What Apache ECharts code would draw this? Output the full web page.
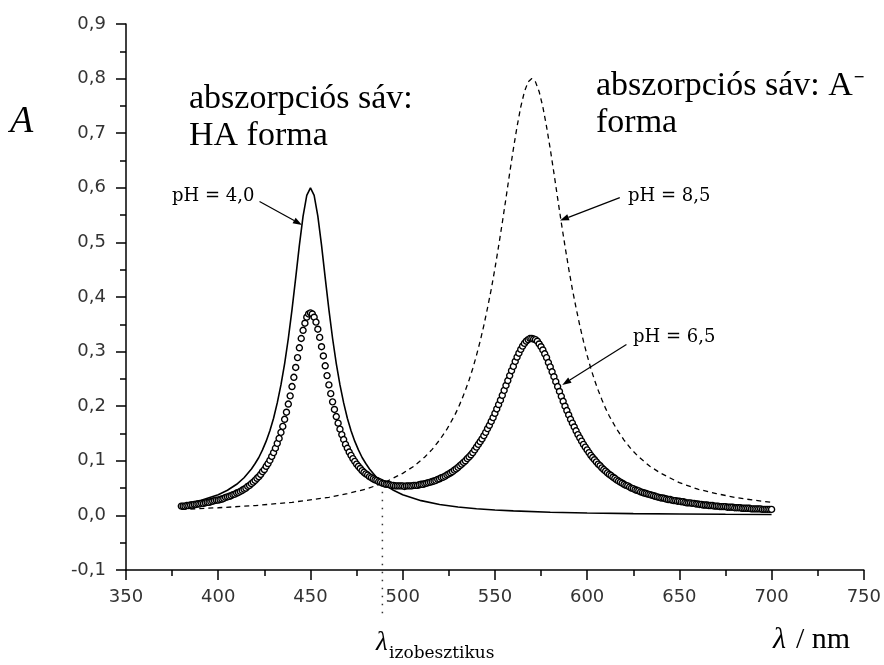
<!DOCTYPE html>
<html><head><meta charset="utf-8">
<script src="https://cdn.jsdelivr.net/npm/echarts@6/dist/echarts.min.js"></script>
<style>html,body{margin:0;padding:0;background:#fff}#c{width:884px;height:665px}</style>
</head><body><div id="c"></div>
<script>
// pH = 6,5 (circles), wavelengths in nm
const wl65 = [
380,381,382,383,384,385,386,387,388,389,
390,391,392,393,394,395,396,397,398,399,
400,401,402,403,404,405,406,407,408,409,
410,411,412,413,414,415,416,417,418,419,
420,421,422,423,424,425,426,427,428,429,
430,431,432,433,434,435,436,437,438,439,
440,441,442,443,444,445,446,447,448,449,
450,451,452,453,454,455,456,457,458,459,
460,461,462,463,464,465,466,467,468,469,
470,471,472,473,474,475,476,477,478,479,
480,481,482,483,484,485,486,487,488,489,
490,491,492,493,494,495,496,497,498,499,
500,501,502,503,504,505,506,507,508,509,
510,511,512,513,514,515,516,517,518,519,
520,521,522,523,524,525,526,527,528,529,
530,531,532,533,534,535,536,537,538,539,
540,541,542,543,544,545,546,547,548,549,
550,551,552,553,554,555,556,557,558,559,
560,561,562,563,564,565,566,567,568,569,
570,571,572,573,574,575,576,577,578,579,
580,581,582,583,584,585,586,587,588,589,
590,591,592,593,594,595,596,597,598,599,
600,601,602,603,604,605,606,607,608,609,
610,611,612,613,614,615,616,617,618,619,
620,621,622,623,624,625,626,627,628,629,
630,631,632,633,634,635,636,637,638,639,
640,641,642,643,644,645,646,647,648,649,
650,651,652,653,654,655,656,657,658,659,
660,661,662,663,664,665,666,667,668,669,
670,671,672,673,674,675,676,677,678,679,
680,681,682,683,684,685,686,687,688,689,
690,691,692,693,694,695,696,697,698,699,
700];
const a65 = [
.017,.017,.017,.018,.018,.019,.019,.020,.020,.021,
.021,.022,.022,.023,.024,.024,.025,.026,.027,.028,
.028,.029,.030,.031,.033,.034,.035,.036,.038,.039,
.041,.042,.044,.046,.048,.050,.053,.055,.058,.061,
.064,.068,.071,.075,.080,.084,.090,.095,.101,.108,
.115,.123,.132,.141,.152,.163,.176,.189,.204,.219,
.236,.253,.271,.289,.307,.324,.339,.352,.363,.369,
.371,.369,.363,.354,.341,.326,.309,.292,.274,.256,
.239,.223,.208,.194,.181,.169,.158,.148,.139,.130,
.123,.116,.110,.104,.099,.094,.090,.086,.082,.079,
.076,.074,.071,.069,.067,.065,.064,.062,.061,.059,
.058,.057,.057,.056,.055,.055,.054,.054,.054,.054,
.054,.053,.054,.054,.054,.054,.055,.055,.055,.056,
.057,.057,.058,.059,.060,.061,.062,.063,.064,.066,
.067,.069,.070,.072,.074,.076,.078,.080,.083,.085,
.088,.091,.094,.097,.100,.104,.107,.111,.115,.120,
.125,.130,.135,.140,.146,.152,.159,.165,.172,.179,
.187,.195,.203,.211,.220,.229,.238,.247,.256,.265,
.273,.282,.290,.297,.304,.310,.315,.319,.322,.324,
.324,.323,.322,.319,.314,.309,.303,.296,.289,.280,
.272,.263,.254,.245,.236,.227,.218,.209,.200,.192,
.184,.176,.169,.162,.155,.148,.142,.136,.130,.125,
.120,.115,.110,.106,.102,.098,.094,.091,.087,.084,
.081,.078,.075,.073,.070,.068,.065,.063,.061,.059,
.057,.055,.054,.052,.050,.049,.047,.046,.045,.043,
.042,.041,.040,.039,.038,.037,.036,.035,.034,.033,
.032,.032,.031,.030,.029,.029,.028,.027,.027,.026,
.026,.025,.025,.024,.023,.023,.023,.022,.022,.021,
.021,.020,.020,.019,.019,.019,.018,.018,.018,.017,
.017,.017,.016,.016,.016,.016,.015,.015,.015,.015,
.014,.014,.014,.014,.013,.013,.013,.013,.013,.012,
.012,.012,.012,.012,.012,.011,.011,.011,.011,.011,
.011];

// pH = 4,0 (solid line, HA form)
const wlHA = [380,390,400,405,410,414,418,420,422,424,426,428,430,432,434,436,438,440,442,444,446,448,450,
              452,454,456,458,460,462,464,466,468,470,472,474,476,478,480,482,486,490,495,500,510,520,530,540,550,560,580,600,625,650,675,700];
const aHA  = [.020,.027,.038,.046,.057,.069,.085,.095,.106,.120,.136,.155,.178,.206,.239,.278,.324,.377,.435,.495,.548,.586,.600,
              .586,.548,.495,.435,.377,.324,.278,.239,.206,.178,.155,.136,.120,.106,.095,.085,.069,.057,.046,.038,.027,.020,.0154,.0123,.010,.0083,.0059,.0045,.0033,.0025,.0020,.0016];

// pH = 8,5 (dashed line, A- form)
const wlA = [380,400,420,440,460,470,480,490,500,506,512,516,520,524,528,530,532,534,536,538,540,542,544,546,548,550,552,554,556,558,560,562,564,566,568,570,
             572,574,576,578,580,582,584,586,588,590,592,594,596,598,600,602,604,606,608,610,612,616,620,624,628,634,640,650,660,670,680,690,700];
const aA  = [.011,.014,.018,.024,.033,.040,.048,.060,.077,.090,.107,.121,.138,.158,.182,.196,.212,.229,.248,.269,.293,.319,.348,.380,.414,.452,.493,.536,.581,.627,.671,.712,.748,.776,.794,.800,
             .794,.776,.748,.712,.671,.627,.581,.536,.493,.452,.414,.380,.348,.319,.293,.269,.248,.229,.212,.196,.182,.158,.138,.121,.107,.090,.077,.060,.048,.040,.033,.028,.024];

// annotation arrows: [tail, tip] in data coordinates
const arrows = [
  [[422.4, 0.575], [445.4, 0.532]],
  [[617.7, 0.582], [585.3, 0.540]],
  [[621.3, 0.313], [586.5, 0.239]]
];
const isosbestic = [489, 0.058];

const zip = (xs, ys) => xs.map((x, i) => [x, ys[i]]);
const chart = echarts.init(document.getElementById('c'), null, {renderer: 'canvas'});
const axisTxt = {color: '#333', fontFamily: '"DejaVu Sans", sans-serif', fontSize: 18};
chart.setOption({
  animation: false,
  backgroundColor: '#fff',
  grid: {left: 126, right: 17, top: 24, bottom: 95, containLabel: false},
  xAxis: {
    type: 'value', min: 350, max: 750, interval: 50,
    axisLine: {onZero: false, lineStyle: {color: '#000', width: 1.5}},
    axisTick: {inside: false, length: 10, lineStyle: {color: '#000', width: 1.5}},
    minorTick: {show: true, splitNumber: 2, length: 6, lineStyle: {color: '#000', width: 1.5}},
    splitLine: {show: false},
    axisLabel: Object.assign({margin: 18}, axisTxt)
  },
  yAxis: {
    type: 'value', min: -0.1, max: 0.9, interval: 0.1,
    axisLine: {show: true, onZero: false, lineStyle: {color: '#000', width: 1.5}},
    axisTick: {show: true, inside: false, length: 10, lineStyle: {color: '#000', width: 1.5}},
    minorTick: {show: true, splitNumber: 2, length: 6, lineStyle: {color: '#000', width: 1.5}},
    splitLine: {show: false},
    axisLabel: Object.assign({margin: 20, formatter: v => (Math.round(v * 10) / 10).toFixed(1).replace('.', ',')}, axisTxt)
  },
  series: [
    {type: 'line', name: 'pH = 4,0', data: zip(wlHA, aHA), showSymbol: false, symbol: 'none',
     lineStyle: {color: '#000', width: 1.6}, z: 2},
    {type: 'line', name: 'pH = 8,5', data: zip(wlA, aA), showSymbol: false, symbol: 'none',
     lineStyle: {color: '#000', width: 1.3, type: [5, 4]}, z: 2},
    {type: 'scatter', name: 'pH = 6,5', data: zip(wl65, a65), symbol: 'circle', symbolSize: 6,
     itemStyle: {color: '#fff', borderColor: '#000', borderWidth: 1.4, opacity: 1}, z: 3}
  ]
});

function px(p) { return chart.convertToPixel({gridIndex: 0}, p); }
const g = [];
arrows.forEach(([t0, t1]) => {
  const p0 = px(t0), p1 = px(t1);
  const dx = p1[0] - p0[0], dy = p1[1] - p0[1], L = Math.hypot(dx, dy), ux = dx / L, uy = dy / L;
  const hl = 9, hw = 3.2, bx = p1[0] - ux * hl, by = p1[1] - uy * hl;
  g.push({type: 'line', shape: {x1: p0[0], y1: p0[1], x2: bx, y2: by}, style: {stroke: '#000', lineWidth: 1.2}, z: 10});
  g.push({type: 'polygon', shape: {points: [p1, [bx - uy * hw, by + ux * hw], [bx + uy * hw, by - ux * hw]]}, style: {fill: '#000'}, z: 10});
});
const pi = px(isosbestic), pb = px([isosbestic[0], -0.1]);
g.push({type: 'line', shape: {x1: pi[0], y1: pi[1], x2: pi[0], y2: pb[1] + 47}, style: {stroke: '#333', lineWidth: 1.5, lineDash: [1.5, 6.5]}, z: 1});

const serif = '"Liberation Serif", "Times New Roman", serif';
const dserif = '"DejaVu Serif", serif';
function txt(text, x, y, font) {
  g.push({type: 'text', x: x, y: y, z: 10,
    style: {text: text, font: font, fill: '#000', align: 'left', verticalAlign: 'middle'}});
}
const mctx = document.createElement('canvas').getContext('2d');
mctx.font = '34px ' + serif;
const rightW = mctx.measureText('abszorpciós sáv: A').width;

txt('A', 10, 122, 'italic 38px ' + serif);
txt('abszorpciós sáv:', 189, 99, '34px ' + serif);
txt('HA forma', 189, 136, '34px ' + serif);
txt('abszorpciós sáv: A', 596, 86, '34px ' + serif);
txt('\u2212', 596 + rightW + 1, 78, 'bold 19px ' + serif);
txt('forma', 596, 123, '34px ' + serif);
txt('pH = 4,0', 172, 196, '18px ' + dserif);
txt('pH = 8,5', 628, 196, '18px ' + dserif);
txt('pH = 6,5', 633, 337, '18px ' + dserif);
txt('\u03BB', 773, 640, 'italic 30px ' + serif);
txt('/ nm', 796, 640, '30px ' + serif);
txt('\u03BB', 376, 643, 'italic 27px ' + serif);
txt('izobesztikus', 389, 654, '17px ' + dserif);

chart.setOption({graphic: {elements: g}});
</script></body></html>
